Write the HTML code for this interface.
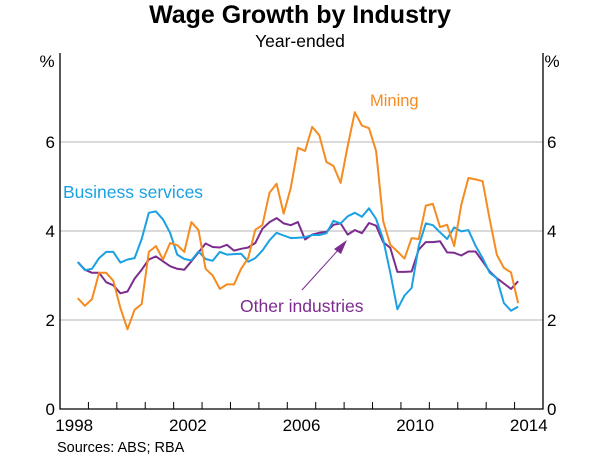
<!DOCTYPE html>
<html><head><meta charset="utf-8"><style>
body{margin:0;background:#fff;}
svg text{font-family:"Liberation Sans",Arial,sans-serif;}
</style></head><body>
<svg id="chart" width="600" height="463" viewBox="0 0 600 463">
<text x="300" y="23" text-anchor="middle" font-size="25" font-weight="bold">Wage Growth by Industry</text>
<text x="300" y="47" text-anchor="middle" font-size="17.5">Year-ended</text>
<text x="47" y="67" text-anchor="middle" font-size="17">%</text>
<text x="552" y="67" text-anchor="middle" font-size="17">%</text>
<g id="grid"></g><g id="series"></g><g id="axes"></g>
<text x="370" y="106" font-size="16.5" fill="#F68B1F">Mining</text>
<text x="63" y="198" font-size="17.5" fill="#1BA1E2">Business services</text>
<text x="240" y="312" font-size="17.5" fill="#7B2C8E">Other industries</text>
<line x1="302" y1="290" x2="340" y2="248" stroke="#7B2C8E" stroke-width="1"/>
<polygon points="347,240 334,249 341,254" fill="#7B2C8E"/>
<text x="57" y="452" font-size="14.5">Sources:   ABS; RBA</text>
</svg>
<script>
const yTicks=[0,2,4,6];
const xLabels=[1998,2002,2006,2010,2014];
const startQuarter=1998.625;
const business=[3.30,3.12,3.15,3.39,3.53,3.53,3.29,3.36,3.39,3.82,4.41,4.44,4.26,3.96,3.47,3.37,3.34,3.54,3.37,3.33,3.53,3.47,3.48,3.49,3.31,3.39,3.56,3.79,3.96,3.90,3.84,3.85,3.86,3.91,3.91,3.95,4.23,4.17,4.33,4.41,4.32,4.51,4.27,3.81,3.06,2.24,2.55,2.72,3.66,4.17,4.13,3.97,3.82,4.08,3.99,4.02,3.67,3.39,3.06,2.94,2.38,2.21,2.30];
const mining=[2.49,2.32,2.47,3.06,3.06,2.88,2.27,1.79,2.23,2.36,3.53,3.66,3.36,3.73,3.68,3.53,4.20,4.02,3.15,3.00,2.70,2.80,2.80,3.15,3.39,4.03,4.13,4.86,5.06,4.39,4.97,5.87,5.80,6.34,6.15,5.55,5.46,5.08,5.91,6.67,6.37,6.31,5.80,4.22,3.69,3.54,3.38,3.84,3.82,4.57,4.61,4.09,4.14,3.66,4.59,5.19,5.16,5.12,4.26,3.47,3.17,3.07,2.38];
const other=[3.30,3.13,3.06,3.06,2.85,2.78,2.60,2.64,2.93,3.13,3.36,3.43,3.32,3.21,3.15,3.13,3.32,3.52,3.72,3.64,3.63,3.69,3.56,3.60,3.63,3.73,4.05,4.20,4.29,4.17,4.13,4.20,3.81,3.92,3.96,3.98,4.14,4.17,3.92,4.02,3.95,4.18,4.12,3.75,3.62,3.08,3.08,3.09,3.58,3.75,3.75,3.77,3.52,3.51,3.45,3.54,3.54,3.32,3.09,2.94,2.82,2.70,2.87];
const L=60,R=543,X0=1998,X1=2015,T=53,B=409;
const xs=t=>L+(t-X0)/(X1-X0)*(R-L);
const ys=v=>B-v/8*(B-T);
const NS='http://www.w3.org/2000/svg';
function mk(tag,attrs,parent){const e=document.createElementNS(NS,tag);for(const k in attrs)e.setAttribute(k,attrs[k]);parent.appendChild(e);return e;}
const grid=document.getElementById('grid'),axes=document.getElementById('axes'),ser=document.getElementById('series');
yTicks.forEach(v=>{
  if(v>0){const g=mk('line',{x1:L,x2:R,y1:ys(v),y2:ys(v),stroke:'#b4b4b4','stroke-width':1},grid);
  
  }
  const a=mk('text',{x:L-5,y:ys(v)+6,'text-anchor':'end','font-size':17},axes);a.textContent=v;
  
  
  const b=mk('text',{x:R+4,y:ys(v)+6,'font-size':17},axes);b.textContent=v;
  
  
});
const fr=mk('path',{d:`M${L},${T}V${B}H${R}V${T}`,fill:'none',stroke:'#000','stroke-width':1.3},axes);


for(let yr=X0+1;yr<X1;yr++){const t=mk('line',{x1:xs(yr),x2:xs(yr),y1:B,y2:B-7,stroke:'#000','stroke-width':1},axes);
  
  }
xLabels.forEach(yr=>{const t=mk('text',{x:xs(yr+0.5),y:B+22,'text-anchor':'middle','font-size':17},axes);t.textContent=yr;
  
  });
function line(arr,col,name){const p=arr.map((v,i)=>xs(startQuarter+0.25*i).toFixed(1)+','+ys(v).toFixed(1)).join(' ');
  const e=mk('polyline',{points:p,fill:'none',stroke:col,'stroke-width':2,'stroke-linejoin':'round'},ser);
  
  }
line(other,'#7B2C8E','other-industries-line');
line(business,'#1BA1E2','business-services-line');
line(mining,'#F68B1F','mining-line');
</script>
</body></html>
